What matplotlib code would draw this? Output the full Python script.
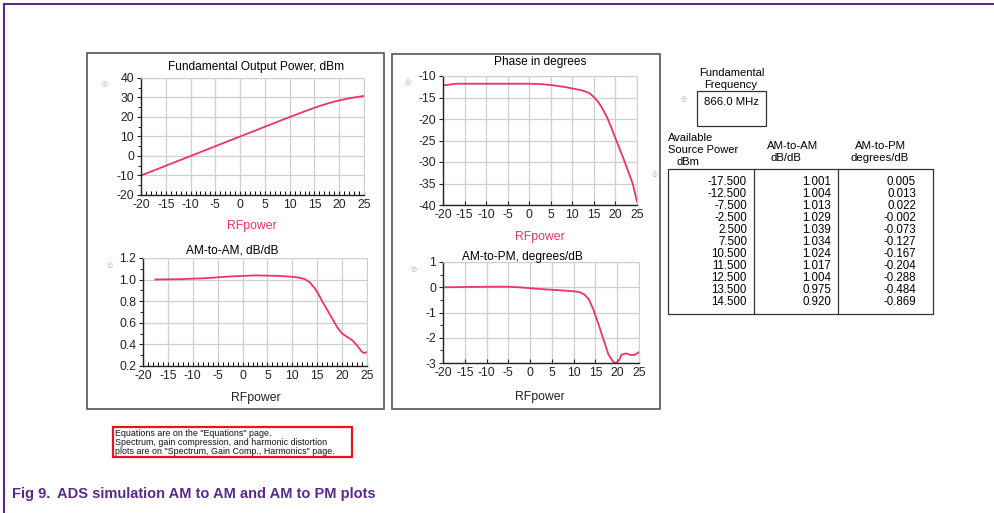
import matplotlib
matplotlib.use("Agg")
import matplotlib.pyplot as plt
from matplotlib.patches import Rectangle
from matplotlib.lines import Line2D
from matplotlib.ticker import MultipleLocator, FormatStrFormatter

plt.rcParams['font.family'] = ['Liberation Sans', 'DejaVu Sans']
plt.rcParams['axes.unicode_minus'] = False

# ---------------- data ----------------
pow_x = [-20, -15, -10, -5, 0, 5, 10, 12, 14, 15, 16, 18, 20, 22, 24, 25]
pow_y = [-10, -5, 0, 5, 10, 15, 20, 21.9, 23.8, 24.7, 25.6, 27.2, 28.5, 29.6, 30.4, 30.8]

phase_x = [-20, -17, -10, -5, 0, 3, 5, 8, 10, 12, 13, 14, 15, 16, 17, 18, 19, 20, 21, 22, 23, 24, 25]
phase_y = [-12.2, -11.8, -11.8, -11.8, -11.8, -11.9, -12.1, -12.5, -12.9, -13.3, -13.6, -14.0,
           -14.9, -16.0, -17.6, -19.5, -21.9, -24.5, -27.0, -29.6, -32.3, -35.0, -39.2]

amam_x = [-17.5, -12.5, -7.5, -2.5, 2.5, 7.5, 10.5, 11.5, 12.5, 13.5, 14.5, 15, 16, 17, 18, 19,
          20, 21, 22, 23, 24, 24.5, 25]
amam_y = [1.001, 1.004, 1.013, 1.029, 1.039, 1.034, 1.024, 1.017, 1.004, 0.975, 0.920, 0.886,
          0.80, 0.72, 0.64, 0.56, 0.50, 0.47, 0.44, 0.39, 0.33, 0.32, 0.33]

ampm_x = [-19.5, -15, -12.5, -7.5, -5, -2.5, 2.5, 7.5, 10.5, 11.5, 12.5, 13.5, 14.5, 15, 16, 17,
          18, 19, 19.5, 20, 20.5, 21, 22, 23, 24, 25]
ampm_y = [0.0, 0.01, 0.013, 0.022, 0.02, -0.002, -0.073, -0.127, -0.167, -0.204, -0.288, -0.484,
          -0.869, -1.12, -1.62, -2.15, -2.67, -2.93, -3.0, -2.96, -2.87, -2.67, -2.62, -2.68,
          -2.68, -2.57]

tbl_power = ["-17.500", "-12.500", "-7.500", "-2.500", "2.500", "7.500", "10.500", "11.500",
             "12.500", "13.500", "14.500"]
tbl_amam = ["1.001", "1.004", "1.013", "1.029", "1.039", "1.034", "1.024", "1.017", "1.004",
            "0.975", "0.920"]
tbl_ampm = ["0.005", "0.013", "0.022", "-0.002", "-0.073", "-0.127", "-0.167", "-0.204",
            "-0.288", "-0.484", "-0.869"]

fund_freq = "866.0 MHz"

# ---------------- layout helpers ----------------
W, H = 995, 513
fig = plt.figure(figsize=(W / 100, H / 100), dpi=100)
fig.patch.set_facecolor('white')


def fx(x):
    return x / W


def fy(y):
    return 1 - y / H


def add_ax(l, r, t, b):
    return fig.add_axes([fx(l), fy(b), (r - l) / W, (b - t) / H])


def ftext(x, y, s, **kw):
    kw.setdefault('fontsize', 8)
    kw.setdefault('ha', 'center')
    kw.setdefault('va', 'center')
    return fig.text(fx(x), fy(y), s, **kw)


LINE = '#ee3366'
GRID = '#cfcfcf'
PURPLE = '#5b2a88'
TXT = '#222222'


def style(ax, xminor=False, yminor=None):
    ax.grid(True, color=GRID, lw=0.9)
    ax.set_axisbelow(True)
    for s in ['top', 'right']:
        ax.spines[s].set_color(GRID)
    for s in ['left', 'bottom']:
        ax.spines[s].set_color(TXT)
        ax.spines[s].set_linewidth(1.0)
    ax.xaxis.set_major_locator(MultipleLocator(5))
    ax.tick_params(axis='both', labelsize=8.8, colors=TXT, length=3, width=0.8, pad=2)
    ax.tick_params(axis='x', direction='in', pad=3)
    ax.tick_params(axis='y', direction='out')
    if xminor:
        ax.xaxis.set_minor_locator(MultipleLocator(1))
        ax.tick_params(axis='x', which='minor', direction='in', length=3, width=0.7)
    if yminor is not None:
        ax.yaxis.set_minor_locator(MultipleLocator(yminor))
        ax.tick_params(axis='y', which='minor', direction='out', length=2, width=0.6)
    ax.set_xlim(-20, 25)


def box(l, t, r, b, color='#333333', lw=0.9):
    fig.add_artist(Rectangle((fx(l), fy(b)), (r - l) / W, (b - t) / H, transform=fig.transFigure,
                             fill=False, edgecolor=color, lw=lw))


# ---------------- panel boxes ----------------
box(87, 53, 384, 409, color='#555555', lw=1.2)
box(392, 54, 660, 409, color='#555555', lw=1.2)

# ---------------- plot 1: fundamental output power ----------------
ax1 = add_ax(141, 364, 78, 195)
ax1.plot(pow_x, pow_y, color=LINE, lw=1.3)
ax1.set_ylim(-20, 40)
ax1.yaxis.set_major_locator(MultipleLocator(10))
style(ax1, xminor=True, yminor=5)
ftext(256, 67, "Fundamental Output Power, dBm", fontsize=8.6)
ftext(252, 226, "RFpower", fontsize=8.8, color=LINE)

# ---------------- plot 2: phase ----------------
ax2 = add_ax(443, 637, 76, 205)
ax2.plot(phase_x, phase_y, color=LINE, lw=1.3)
ax2.set_ylim(-40, -10)
ax2.yaxis.set_major_locator(MultipleLocator(5))
style(ax2)
ftext(540, 62, "Phase in degrees", fontsize=8.6)
ftext(540, 237, "RFpower", fontsize=8.8, color=LINE)

# ---------------- plot 3: AM-to-AM ----------------
ax3 = add_ax(143, 367, 258, 366)
ax3.plot(amam_x, amam_y, color=LINE, lw=1.3)
ax3.set_ylim(0.2, 1.2)
ax3.yaxis.set_major_locator(MultipleLocator(0.2))
ax3.yaxis.set_major_formatter(FormatStrFormatter('%.1f'))
style(ax3, xminor=True, yminor=0.1)
ftext(232, 251, "AM-to-AM, dB/dB", fontsize=8.6)
ftext(256, 398, "RFpower", fontsize=8.8, color=TXT)

# ---------------- plot 4: AM-to-PM ----------------
ax4 = add_ax(443, 639, 262, 363)
ax4.plot(ampm_x, ampm_y, color=LINE, lw=1.3)
ax4.set_ylim(-3, 1)
ax4.yaxis.set_major_locator(MultipleLocator(1))
style(ax4, yminor=0.5)
ftext(522, 257, "AM-to-PM, degrees/dB", fontsize=8.6)
ftext(540, 397, "RFpower", fontsize=8.8, color=TXT)

# small marker icons
for (ix, iy) in [(105, 84), (408, 82), (110, 265), (414, 269), (684, 99), (655, 174)]:
    ftext(ix, iy, "◎", fontsize=5, color='#b0b0b0', family=['DejaVu Sans'])

# ---------------- fundamental frequency box ----------------
ftext(732, 73, "Fundamental", fontsize=8)
ftext(731, 85, "Frequency", fontsize=8)
box(697, 91, 766, 126)
ftext(732, 102, fund_freq, fontsize=8.2)

# ---------------- table ----------------
ftext(668, 138, "Available", fontsize=8, ha='left')
ftext(668, 150, "Source Power", fontsize=8, ha='left')
ftext(677, 162, "dBm", fontsize=8, ha='left')
ftext(793, 146, "AM-to-AM", fontsize=8.2)
ftext(786, 158, "dB/dB", fontsize=8.2)
ftext(880, 146, "AM-to-PM", fontsize=8.2)
ftext(880, 158, "degrees/dB", fontsize=8.2)

box(668, 169, 933, 314)
for sx in [754, 838]:
    fig.add_artist(Line2D([fx(sx), fx(sx)], [fy(169), fy(314)], transform=fig.transFigure,
                          color='#333333', lw=0.9))
for i in range(len(tbl_power)):
    ry = 182 + i * 12
    ftext(747, ry, tbl_power[i], fontsize=8.3, ha='right')
    ftext(831, ry, tbl_amam[i], fontsize=8.3, ha='right')
    ftext(916, ry, tbl_ampm[i], fontsize=8.3, ha='right')

# ---------------- note box ----------------
box(113, 427, 352, 457, color='#e8141e', lw=1.6)
notes = ['Equations are on the "Equations" page.',
         'Spectrum, gain compression, and harmonic distortion',
         'plots are on "Spectrum, Gain Comp., Harmonics" page.']
for i, s in enumerate(notes):
    ftext(115, 433.5 + i * 9.0, s, fontsize=6.4, ha='left', color='#111111')

# ---------------- outer frame & caption ----------------
fig.add_artist(Line2D([fx(4), 1], [fy(4), fy(4)], transform=fig.transFigure, color=PURPLE, lw=1.5))
fig.add_artist(Line2D([fx(4), fx(4)], [fy(4), 0], transform=fig.transFigure, color=PURPLE, lw=1.5))

ftext(12, 494, "Fig 9.", fontsize=10.5, ha='left', color=PURPLE, fontweight='bold')
ftext(57, 494, "ADS simulation AM to AM and AM to PM plots", fontsize=10.5, ha='left', color=PURPLE,
      fontweight='bold')

fig.savefig("out.png", dpi=100, facecolor='white')
